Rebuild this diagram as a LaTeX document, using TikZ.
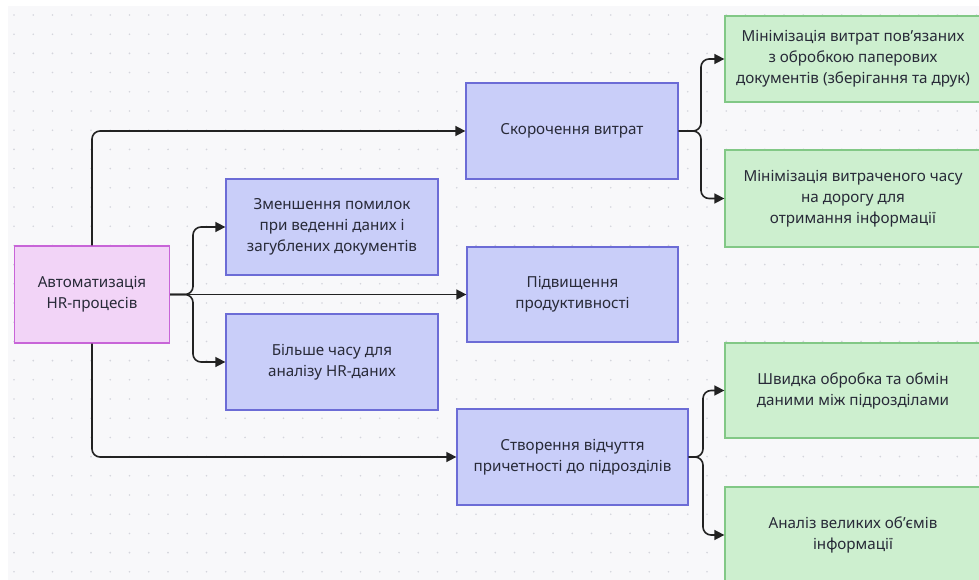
\documentclass[tikz,border=0pt]{standalone}
\usepackage{fontspec}
\setmainfont{Noto Sans}
\usetikzlibrary{arrows.meta}
\definecolor{canvas}{HTML}{F8F8FA}
\definecolor{gridDot}{HTML}{D4D5DC}
\definecolor{rootFill}{HTML}{F2D4F7}
\definecolor{rootLine}{HTML}{C865D8}
\definecolor{blueFill}{HTML}{C9CEF9}
\definecolor{blueLine}{HTML}{6C6CD6}
\definecolor{greenFill}{HTML}{CDEFCF}
\definecolor{greenLine}{HTML}{82C886}
\definecolor{inkText}{HTML}{282A38}
\definecolor{wire}{HTML}{222222}
\tikzset{
  box/.style={draw, line width=1.3pt, align=center, text=inkText,
    font=\fontsize{15.2}{21}\selectfont, inner sep=0pt},
  rootbox/.style={box, fill=rootFill, draw=rootLine},
  bluebox/.style={box, fill=blueFill, draw=blueLine},
  greenbox/.style={box, fill=greenFill, draw=greenLine},
  link/.style={draw=wire, line width=1.6pt, rounded corners=8pt,
    -{Triangle[length=10pt,width=10pt]}},
}
\begin{document}
\begin{tikzpicture}[x=1pt,y=-1pt]
  % canvas with dotted grid
  \fill[white] (0,0) rectangle (979,580);
  \fill[canvas] (8,6) rectangle (979,580);
  \foreach \i in {0,...,50}{
    \foreach \j in {0,...,29}{
      \fill[gridDot] ({14+19.25*\i},{15+19.2*\j}) circle (0.9pt);
    }
  }
  \useasboundingbox (0,0) rectangle (979,580);

  % root
  \node[rootbox, minimum width=155pt, minimum height=97pt] (root) at (92,294.5)
    {Автоматизація\\HR-процесів};

  % middle column
  \node[bluebox, minimum width=212pt, minimum height=96pt] (fewer) at (332,227)
    {Зменшення помилок\\при веденні даних і\\загублених документів};
  \node[bluebox, minimum width=212pt, minimum height=96pt] (moretime) at (332,362)
    {Більше часу для\\аналізу HR-даних};

  % right column
  \node[bluebox, minimum width=212pt, minimum height=96pt] (costs) at (572,131)
    {Скорочення витрат};
  \node[bluebox, minimum width=211pt, minimum height=95pt] (product) at (572.5,294.5)
    {Підвищення\\продуктивності};
  \node[bluebox, minimum width=231pt, minimum height=96pt] (belong) at (572.5,457)
    {Створення відчуття\\причетності до підрозділів};

  % outcomes
  \node[greenbox, minimum width=256pt, minimum height=86pt] (paper) at (853,59)
    {Мінімізація витрат пов’язаних\\з обробкою паперових\\документів (зберігання та друк)};
  \node[greenbox, minimum width=256pt, minimum height=97pt] (travel) at (853,198.5)
    {Мінімізація витраченого часу\\на дорогу для\\отримання інформації};
  \node[greenbox, minimum width=256pt, minimum height=95pt] (exchange) at (853,390.5)
    {Швидка обробка та обмін\\даними між підрозділами};
  \node[greenbox, minimum width=256pt, minimum height=96pt] (bigdata) at (853,535)
    {Аналіз великих об’ємів\\інформації};

  % junction points
  \coordinate (jroot) at (193,294.5);
  \coordinate (jcost) at (701,131);
  \coordinate (jbelong) at (703,457);

  % connectors from the root
  \draw[link] (root.north) |- (costs.west);
  \draw[link] (root.south) |- (belong.west);
  \draw[link] (root.east) -- (product.west);
  \draw[link] (root.east) -- (jroot) |- (fewer.west);
  \draw[link] (root.east) -- (jroot) |- (moretime.west);

  % connectors to outcomes
  \draw[link] (costs.east) -- (jcost) |- (paper.west);
  \draw[link] (costs.east) -- (jcost) |- (travel.west);
  \draw[link] (belong.east) -- (jbelong) |- (exchange.west);
  \draw[link] (belong.east) -- (jbelong) |- (bigdata.west);
\end{tikzpicture}
\end{document}
